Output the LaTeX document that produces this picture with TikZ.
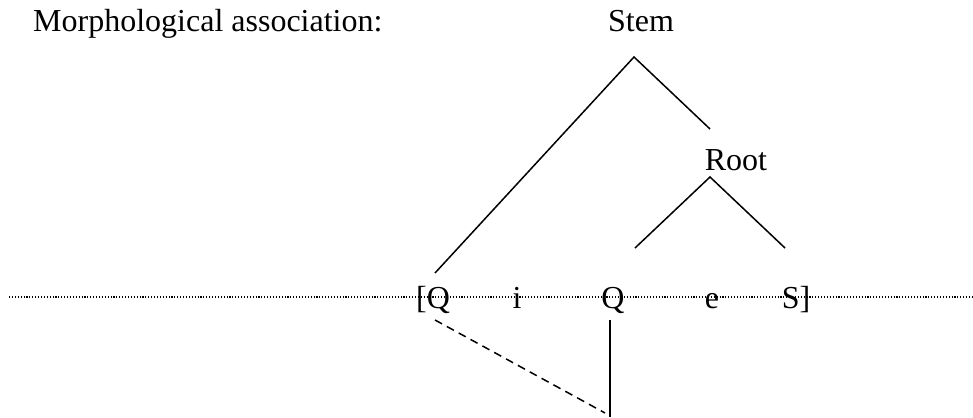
\documentclass[tikz,border=0pt]{standalone}
\usepackage{fontspec}
\setmainfont{Liberation Serif}
\begin{document}
\begin{tikzpicture}[x=1pt,y=-1pt,
  lbl/.style={inner sep=0pt,anchor=base,font=\fontsize{32}{38}\selectfont},
  branch/.style={line width=1.5pt},
  tier/.style={line width=1.1pt,dash pattern=on 1.1pt off 1.8pt},
  assoc/.style={line width=1.5pt,dash pattern=on 8pt off 5.5pt}]
\useasboundingbox (0,0) rectangle (973,417);
% labels
\node[lbl,anchor=base west] (title) at (33,32) {Morphological association:};
\node[lbl] (stem) at (641,32) {Stem};
\node[lbl] (root) at (736,170) {Root};
% segments
\coordinate (tl) at (9,297);
\coordinate (tr) at (973,297);
\draw[tier] (tl) -- (tr);
\node[lbl] (s1) at (433,308) {[Q};
\node[lbl] (s2) at (517,308) {i};
\node[lbl] (s3) at (613,308) {Q};
\node[lbl] (s4) at (712,308) {e};
\node[lbl] (s5) at (796,308) {S]};
% tree coordinates
\coordinate (stemapex) at (634,57);
\coordinate (stemL) at (435,273);
\coordinate (stemR) at (710,129);
\coordinate (rootapex) at (710,177);
\coordinate (rootL) at (635,248);
\coordinate (rootR) at (785,248);
\coordinate (dashA) at (435,320);
\coordinate (dashB) at (605,413);
\coordinate (vtop) at (610,320);
\coordinate (vbot) at (610,417);
\draw[branch] (stemL) -- (stemapex) -- (stemR);
\draw[branch] (rootL) -- (rootapex) -- (rootR);
\draw[assoc] (dashA) -- (dashB);
\draw[branch] (vtop) -- (vbot);
\end{tikzpicture}
\end{document}
